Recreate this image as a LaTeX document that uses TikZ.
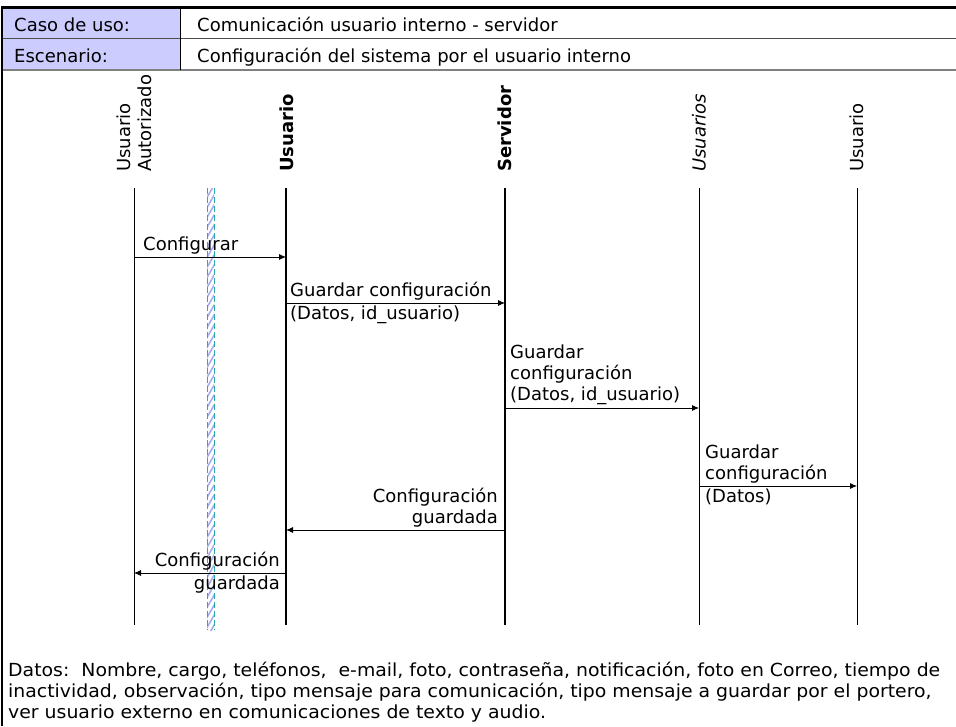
\documentclass[tikz,border=0pt]{standalone}
\usepackage{fontspec}
\setmainfont{DejaVu Sans}
\usepackage{graphicx}
\usetikzlibrary{patterns.meta,arrows.meta}
\definecolor{lila}{RGB}{204,204,255}
\definecolor{hatch}{RGB}{170,170,240}
\definecolor{cian}{RGB}{40,170,175}

\begin{document}
\begin{tikzpicture}[x=1pt,y=-1pt, inner sep=0pt, >={Latex[length=7pt,width=6pt]},
  txt/.style={font=\fontsize{18}{21}\selectfont},
  head/.style={txt, rotate=90, anchor=west, align=left},
  thin life/.style={line width=0.8pt},
  thick life/.style={line width=2.6pt},
  msg/.style={->, line width=0.8pt}]
\useasboundingbox (0,0) rectangle (956,726);
% table head
\fill[lila] (2,7) rectangle (180,70);
\draw[gray!60!black, line width=1pt] (2,38) -- (956,38);
\draw[gray, line width=1.6pt] (2,70) -- (956,70);
\draw[line width=0.8pt] (180,7) -- (180,70);
\draw[line width=3pt] (1,7) -- (956,7);
\draw[line width=1.5pt] (2,7) -- (2,726);
\node (caso) at (14,31) [txt, anchor=base west] {Caso de uso:};
\node (cu) at (197,31) [txt, anchor=base west] {Comunicación usuario interno - servidor};
\node (esc) at (14,62) [txt, anchor=base west] {Escenario:};
\node (es) at (197,62) [txt, anchor=base west] {Configuración del sistema por el usuario interno};

% lifelines
\node (ua) at (134,172) [head] {Usuario\\Autorizado};
\node (us) at (287,172) [head, font=\fontsize{18}{21}\selectfont\bfseries] {Usuario};
\node (sv) at (505,172) [head, font=\fontsize{18}{21}\selectfont\bfseries] {Servidor};
\node (uss) at (699,172) [head, font=\fontsize{18}{21}\selectfont\itshape] {Usuarios};
\node (u) at (857,172) [head] {Usuario};
\coordinate (ua-t) at (134,188); \coordinate (ua-b) at (134,625);
\coordinate (us-t) at (286,188); \coordinate (us-b) at (286,625);
\coordinate (sv-t) at (505,188); \coordinate (sv-b) at (505,625);
\coordinate (uss-t) at (699,188); \coordinate (uss-b) at (699,625);
\coordinate (u-t) at (857,188); \coordinate (u-b) at (857,625);
\draw[thin life] (ua-t) -- (ua-b);
\draw[thick life] (us-t) -- (us-b);
\draw[thick life] (sv-t) -- (sv-b);
\draw[thin life] (uss-t) -- (uss-b);
\draw[thin life] (u-t) -- (u-b);

% hatched bar
\fill[pattern={Lines[angle=60, distance=5pt, line width=1.6pt]}, pattern color=hatch] (207,188) rectangle (214,630);
\draw[cian, dash pattern=on 6pt off 3pt, line width=1pt] (207,188) -- (207,630);
\draw[cian, dash pattern=on 6pt off 3pt, line width=1pt] (214,188) -- (214,630);

% messages
\coordinate (m1) at (0,257);
\coordinate (m2) at (0,303);
\coordinate (m3) at (0,408);
\coordinate (m4) at (0,486);
\coordinate (m5) at (0,530);
\coordinate (m6) at (0,573);
\draw[msg] (ua-t |- m1) -- (us-t |- m1);
\draw[msg] (us-t |- m2) -- (sv-t |- m2);
\draw[msg] (sv-t |- m3) -- (uss-t |- m3);
\draw[msg] (uss-t |- m4) -- (u-t |- m4);
\draw[msg] (sv-t |- m5) -- (us-t |- m5);
\draw[msg] (us-t |- m6) -- (ua-t |- m6);
\node (l1) at (143,254) [txt, anchor=south west] {Configurar};
\node (l2) at (290,300) [txt, anchor=south west] {Guardar configuración};
\node (l2b) at (290,306) [txt, anchor=north west] {(Datos, id\_usuario)};
\node (l3) at (510,405) [txt, anchor=south west, align=left] {Guardar\\configuración\\(Datos, id\_usuario)};
\node (l4) at (705,483) [txt, anchor=south west, align=left] {Guardar\\configuración};
\node (l4b) at (705,489) [txt, anchor=north west] {(Datos)};
\node (l5) at (498,527) [txt, anchor=south east, align=right] {Configuración\\guardada};
\node (l6) at (280,570) [txt, anchor=south east] {Configuración};
\node (l6b) at (280,576) [txt, anchor=north east] {guardada};

% note
\node (datos) at (8,662) [txt, anchor=north west] {\resizebox{932pt}{\height}{\begin{tabular}{@{}l@{}}Datos:\ \ Nombre, cargo, teléfonos,\ \ e-mail, foto, contraseña, notificación, foto en Correo, tiempo de\\inactividad, observación, tipo mensaje para comunicación, tipo mensaje a guardar por el portero,\\ver usuario externo en comunicaciones de texto y audio.\end{tabular}}};
\end{tikzpicture}
\end{document}
